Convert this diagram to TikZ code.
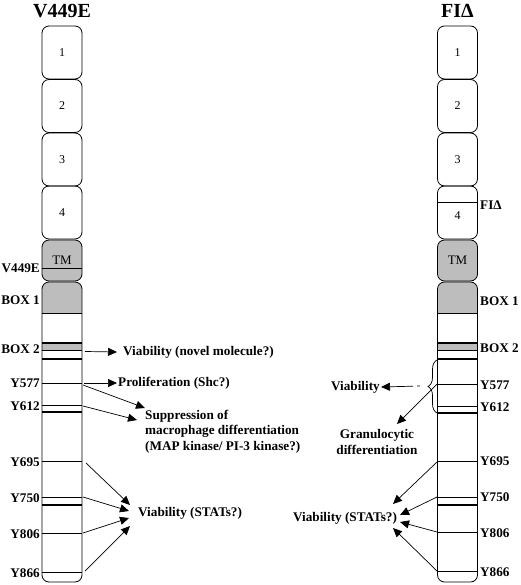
\documentclass[tikz,border=0pt]{standalone}
\usepackage{fontspec}
\setmainfont{Liberation Serif}
\usetikzlibrary{arrows.meta,decorations.pathreplacing}
\definecolor{boxgray}{gray}{0.74}
\tikzset{
  dombox/.style={draw, line width=0.8pt, rounded corners=7pt, minimum width=40pt, minimum height=53pt, inner sep=0pt, font=\fontsize{12}{14}\selectfont},
  tmbox/.style={dombox, fill=boxgray, minimum height=41pt, font=\fontsize{13}{15}\selectfont},
  cytobox/.style={draw, line width=0.8pt, rounded corners=7pt, minimum width=40pt, minimum height=300pt, inner sep=0pt},
  lbl/.style={font=\bfseries\fontsize{13.2}{15.5}\selectfont, inner sep=1pt},
  ttl/.style={font=\bfseries\fontsize{20}{24}\selectfont},
  band/.style={line width=0.5pt},
  thickband/.style={line width=2pt},
  effect/.style={-{Triangle[length=9pt,width=8pt]}, line width=0.7pt},
}
\begin{document}
\begin{tikzpicture}[x=1pt,y=-1pt]
  \useasboundingbox (0,0) rectangle (520,585);

  \node[ttl] (ltitle) at (62,11) {V449E};
  \node[ttl] (rtitle) at (457.5,11) {FIΔ};

  \node[dombox] (l1) at (62,52.5) {1};
  \node[dombox] (l2) at (62,106) {2};
  \node[dombox] (l3) at (62,159.5) {3};
  \node[dombox] (l4) at (62,212.5) {4};
  \node[tmbox] (ltm) at (62,260.5) {TM};
  \draw (ltm.west |- 0,268) -- (ltm.east |- 0,268);
  \begin{scope}
    \clip[rounded corners=7pt] (42,282) rectangle (82,582);
    \fill[boxgray] (42,282) rectangle (82,313);
    \fill[boxgray] (42,343) rectangle (82,350);
  \end{scope}
  \node[cytobox] (lc) at (62,432) {};
  \draw[band] (42,313) -- (82,313);
  \draw[thickband] (42,343) -- (82,343);
  \draw[band] (42,350.5) -- (82,350.5);
  \draw[thickband] (42,359) -- (82,359);
  \draw[band] (42,383) -- (82,383);
  \draw[band] (42,405) -- (82,405);
  \draw[thickband] (42,412) -- (82,412);
  \draw[band] (42,461) -- (82,461);
  \draw[band] (42,497) -- (82,497);
  \draw[thickband] (42,505) -- (82,505);
  \draw[band] (42,533) -- (82,533);
  \draw[band] (42,572) -- (82,572);

  \node[lbl, anchor=east] (lv) at (41,268) {V449E};
  \node[lbl, anchor=east] (lbox1) at (41,300) {BOX 1};
  \node[lbl, anchor=east] (lbox2) at (41,349) {BOX 2};
  \node[lbl, anchor=east] (ly577) at (41,383) {Y577};
  \node[lbl, anchor=east] (ly612) at (41,406) {Y612};
  \node[lbl, anchor=east] (ly695) at (41,462) {Y695};
  \node[lbl, anchor=east] (ly750) at (41,498) {Y750};
  \node[lbl, anchor=east] (ly806) at (41,534) {Y806};
  \node[lbl, anchor=east] (ly866) at (41,573) {Y866};

  \coordinate (lb2) at (85,351.5);
  \coordinate (l577) at (84,383);
  \coordinate (l577b) at (83,385);
  \coordinate (l612) at (83,406);
  \coordinate (l695) at (86,463);
  \coordinate (l750) at (83,497);
  \coordinate (l806) at (83,533);
  \coordinate (l866) at (85,571);

  \node[lbl, anchor=west] (novel) at (122,352) {Viability (novel molecule?)};
  \node[lbl, anchor=west] (prolif) at (117,383) {Proliferation (Shc?)};
  \node[lbl, anchor=north west, align=left] (supp) at (144,409) {Suppression of\\macrophage differentiation\\(MAP kinase/ PI-3 kinase?)};
  \node[lbl, anchor=west] (lstat) at (137,513) {Viability (STATs?)};
  \coordinate (suppa) at (145,408);
  \coordinate (suppb) at (137,420);
  \coordinate (lsa) at (130,505);
  \coordinate (lsb) at (129,511);
  \coordinate (lsc) at (129,518);
  \coordinate (lsd) at (130,526);

  \draw[effect] (lb2) -- (novel.west -| 117,0);
  \draw[effect] (l577) -- (prolif.west);
  \draw[effect] (l577b) -- (suppa);
  \draw[effect] (l612) -- (suppb);
  \draw[effect] (l695) -- (lsa);
  \draw[effect] (l750) -- (lsb);
  \draw[effect] (l806) -- (lsc);
  \draw[effect] (l866) -- (lsd);

  \node[dombox] (r1) at (457.5,52.5) {1};
  \node[dombox] (r2) at (457.5,106) {2};
  \node[dombox] (r3) at (457.5,159.5) {3};
  \node[dombox] (r4) at (457.5,212.5) {};
  \node[font=\fontsize{12}{14}\selectfont] (r4txt) at (457.5,216) {4};
  \draw (r4.west |- 0,202) -- (r4.east |- 0,202);
  \node[tmbox] (rtm) at (457.5,260.5) {TM};
  \begin{scope}
    \clip[rounded corners=7pt] (437.5,282) rectangle (477.5,582);
    \fill[boxgray] (437.5,282) rectangle (477.5,313);
    \fill[boxgray] (437.5,343) rectangle (477.5,350);
  \end{scope}
  \node[cytobox] (rc) at (457.5,432) {};
  \draw[band] (437.5,313) -- (477.5,313);
  \draw[thickband] (437.5,343) -- (477.5,343);
  \draw[band] (437.5,350.5) -- (477.5,350.5);
  \draw[thickband] (437.5,359) -- (477.5,359);
  \draw[band] (437.5,384) -- (477.5,384);
  \draw[band] (437.5,406) -- (477.5,406);
  \draw[thickband] (437.5,413) -- (477.5,413);
  \draw[band] (437.5,461) -- (477.5,461);
  \draw[band] (437.5,497) -- (477.5,497);
  \draw[thickband] (437.5,505) -- (477.5,505);
  \draw[band] (437.5,532) -- (477.5,532);
  \draw[band] (437.5,571) -- (477.5,571);

  \node[lbl, anchor=west] (rfi) at (479,205) {FIΔ};
  \node[lbl, anchor=west] (rbox1) at (479,301) {BOX 1};
  \node[lbl, anchor=west] (rbox2) at (479,348) {BOX 2};
  \node[lbl, anchor=west] (ry577) at (479,385) {Y577};
  \node[lbl, anchor=west] (ry612) at (479,407) {Y612};
  \node[lbl, anchor=west] (ry695) at (479,461) {Y695};
  \node[lbl, anchor=west] (ry750) at (479,497) {Y750};
  \node[lbl, anchor=west] (ry806) at (479,533) {Y806};
  \node[lbl, anchor=west] (ry866) at (479,572) {Y866};

  \draw[decorate, decoration={brace, amplitude=9pt}, line width=0.7pt] (437,413) -- (437,360);
  \coordinate (rbrace) at (420,386);
  \coordinate (r577) at (437,384);
  \coordinate (r695) at (437,462);
  \coordinate (r750) at (437,497);
  \coordinate (r806) at (437,532);
  \coordinate (r866) at (437,571);

  \node[lbl, anchor=east] (rvia) at (381,387) {Viability};
  \node[lbl, align=center] (gran) at (377,442) {Granulocytic\\differentiation};
  \node[lbl] (rstat) at (345,518) {Viability (STATs?)};
  \coordinate (grana) at (397,424);
  \coordinate (rsa) at (393,504);
  \coordinate (rsb) at (400,515);
  \coordinate (rsc) at (400,522);
  \coordinate (rsd) at (393,528);

  \draw[effect, dash pattern=on 3pt off 4pt on 40pt] (rbrace) -- (rvia.east);
  \draw[effect] (r577) -- (grana);
  \draw[effect] (r695) -- (rsa);
  \draw[effect] (r750) -- (rsb);
  \draw[effect] (r806) -- (rsc);
  \draw[effect] (r866) -- (rsd);
\end{tikzpicture}
\end{document}
